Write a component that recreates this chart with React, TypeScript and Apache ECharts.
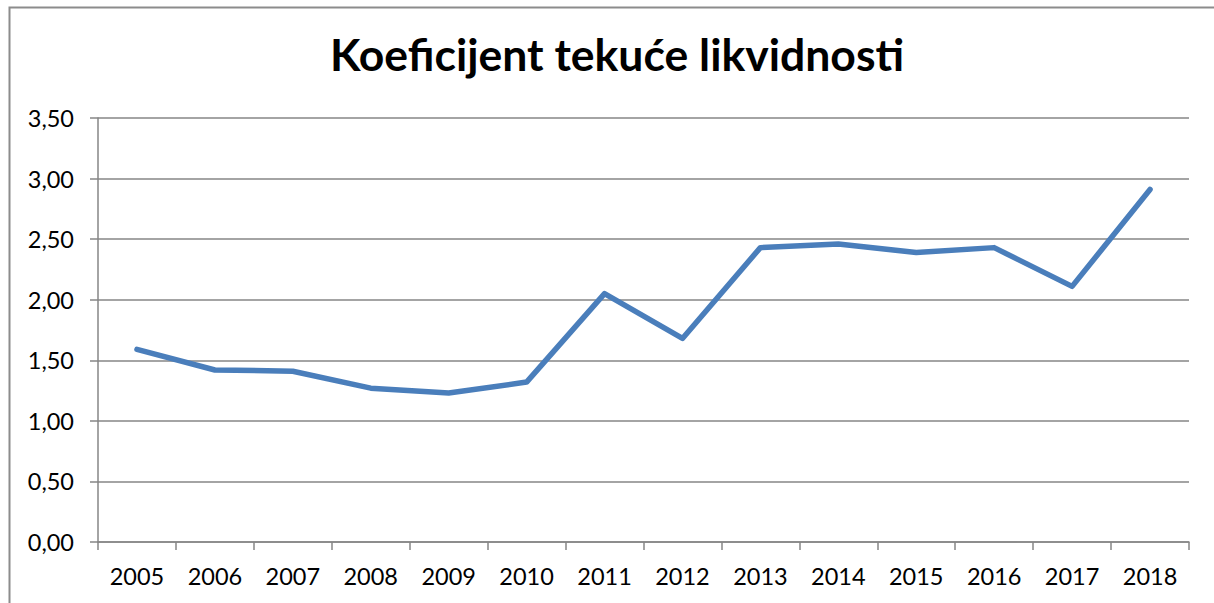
import React, { useEffect, useRef } from "react";
import * as echarts from "echarts";

const years = ["2005","2006","2007","2008","2009","2010","2011","2012","2013","2014","2015","2016","2017","2018"];
const ratio = [1.59, 1.42, 1.41, 1.27, 1.23, 1.32, 2.05, 1.68, 2.43, 2.46, 2.39, 2.43, 2.11, 2.91];
const title = "Koeficijent tekuće likvidnosti";

export default function App() {
  const ref = useRef<HTMLDivElement>(null);
  useEffect(() => {
    const chart = echarts.init(ref.current!, null, { renderer: "svg" });
    const axisColor = "#868686";
    chart.setOption({
      animation: false,
      backgroundColor: "#ffffff",
      title: {
        text: title,
        left: 612,
        top: 26,
        textAlign: "center",
        textStyle: { fontFamily: "Lato", fontWeight: "bold", fontSize: 44.5, color: "#000" },
      },
      graphic: [
        {
          type: "rect",
          shape: { x: 9.5, y: 7.5, width: 1400, height: 800 },
          style: { fill: "none", stroke: "#8c8c8c", lineWidth: 2 },
          silent: true,
        },
      ],
      grid: { left: 98, right: 25, top: 118, bottom: 61, containLabel: false },
      xAxis: {
        type: "category",
        data: years,
        boundaryGap: true,
        axisLine: { lineStyle: { color: axisColor, width: 1.5 } },
        axisTick: { show: true, length: 8, alignWithLabel: false, lineStyle: { color: axisColor, width: 1.5 } },
        axisLabel: { color: "#000", fontFamily: "Lato", fontSize: 23.5, margin: 22, interval: 0 },
      },
      yAxis: {
        type: "value",
        min: 0,
        max: 3.5,
        interval: 0.5,
        axisLine: { show: true, lineStyle: { color: axisColor, width: 1.5 } },
        axisTick: { show: true, length: 8, lineStyle: { color: axisColor, width: 1.5 } },
        axisLabel: {
          color: "#000",
          fontFamily: "Lato",
          fontSize: 23.5,
          margin: 24,
          formatter: (v: number) => v.toFixed(2).replace(".", ","),
        },
        splitLine: { show: true, lineStyle: { color: axisColor, width: 1.5 } },
      },
      series: [
        {
          type: "line",
          data: ratio,
          showSymbol: false,
          symbol: "none",
          lineStyle: { color: "#4a7ebb", width: 5.5, cap: "round", join: "round" },
        },
      ],
    });
    return () => chart.dispose();
  }, []);
  return (
    <div
      ref={ref}
      style={{ position: "absolute", left: 0, top: 0, width: 1214, height: 603 }}
    />
  );
}
